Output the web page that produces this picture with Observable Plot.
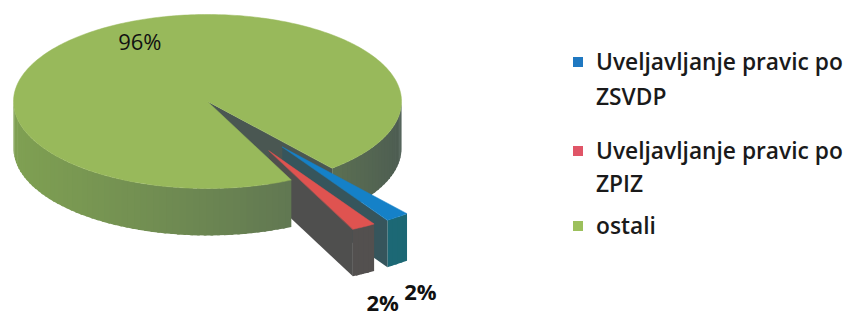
<!DOCTYPE html>
<html>
<head>
<meta charset="utf-8">
<script src="https://cdn.jsdelivr.net/npm/d3@7"></script>
<script src="https://cdn.jsdelivr.net/npm/@observablehq/plot@0.6"></script>
<style>
html, body { margin: 0; padding: 0; background: #fff; overflow: hidden; width: 843px; height: 316px; }
#wrap { position: relative; width: 843px; height: 316px; }
#chart { position: absolute; left: 0; top: 0; }
#legend { position: absolute; left: 0; top: 0; }
</style>
</head>
<body>
<div id="wrap"><div id="chart"></div><svg id="legend" width="843" height="316"></svg></div>
<script>
// ---- data ----
const categories = ["Uveljavljanje pravic po ZSVDP", "Uveljavljanje pravic po ZPIZ", "ostali"];
const legendLines = [["Uveljavljanje pravic po", "ZSVDP"], ["Uveljavljanje pravic po", "ZPIZ"], ["ostali"]];
const values = [2, 2, 96];
const pctLabels = ["2%", "2%", "96%"];
const topColors = ["#1581c8", "#df5350", "#98b95b"];
const legendColors = ["#1f78c1", "#e05567", "#9cc05c"];
const sideLight = ["#1f7a86", "#5a5553", "#7fa052"];
const sideDark = ["#1a5f6c", "#4f4d4c", "#4b5a52"];
const cutColors = ["#36555c", "#4f4f4e", "#4a5752"];

// ---- geometry (unit pie, computed from values) ----
const START = 50, DEPTH = 0.54, EXPLODE = 0.65;
const toR = Math.PI / 180;
const total = d3.sum(values);
let acc = 0;
const slices = values.map((v, i) => {
  const a0 = START + acc / total * 360; acc += v;
  const a1 = START + acc / total * 360;
  const m = (a0 + a1) / 2;
  const e = v / total < 0.1 ? EXPLODE : 0;
  return {i, v, a0, a1, m, e, ox: e * Math.cos(m * toR), oy: e * Math.sin(m * toR)};
});
const faces = [], tops = [];
let pid = 0;
function addPoly(arr, pts, fill, layer) {
  const id = pid++;
  pts.forEach((p, k) => arr.push({id, layer, fill, x: p[0], y: p[1], k}));
}
const rim = (s, a, z = 0) => [s.ox + Math.cos(a * toR), s.oy + Math.sin(a * toR) + z];
const ctr = (s, z = 0) => [s.ox, s.oy + z];

for (const s of slices) {
  // outer side, split in small shaded segments that overlap slightly
  for (const [lo0, hi0] of [[0, 180], [360, 540]]) {
    const lo = Math.max(lo0, s.a0), hi = Math.min(hi0, s.a1);
    if (hi <= lo) continue;
    const n = Math.max(1, Math.ceil((hi - lo) / 2));
    for (let j = 0; j < n; j++) {
      const t1 = lo + (hi - lo) * j / n;
      const t2 = Math.min(hi, lo + (hi - lo) * (j + 1) / n + 0.8);
      const tm = (t1 + t2) / 2;
      const sh = Math.pow((1 - Math.cos(tm * toR)) / 2, 0.7);
      const fill = d3.interpolateRgb(sideDark[s.i], sideLight[s.i])(sh);
      const layer = s.e > 0 ? 1 : ((tm % 360) < START ? 0 : 2);
      addPoly(faces, [rim(s, t1), rim(s, t2), rim(s, t2, DEPTH), rim(s, t1, DEPTH)], fill, layer);
    }
  }
  // radial cut faces that face the viewer
  const layerCut = s.e > 0 ? 1 : 0;
  if (Math.cos(s.a1 * toR) > 0) addPoly(faces, [ctr(s), rim(s, s.a1), rim(s, s.a1, DEPTH), ctr(s, DEPTH)], cutColors[s.i], layerCut);
  if (Math.cos(s.a0 * toR) < 0) addPoly(faces, [ctr(s), rim(s, s.a0), rim(s, s.a0, DEPTH), ctr(s, DEPTH)], cutColors[s.i], layerCut);
}
faces.sort((a, b) => a.layer - b.layer || a.id - b.id || a.k - b.k);
for (const s of slices) {
  const pts = [ctr(s)];
  const n = Math.max(2, Math.ceil(s.a1 - s.a0));
  for (let j = 0; j <= n; j++) pts.push(rim(s, s.a0 + (s.a1 - s.a0) * j / n));
  addPoly(tops, pts, topColors[s.i], 3);
}

const labelPts = slices.map(s => {
  if (s.e > 0) {
    const r = 1.2 + s.e;
    return {x: Math.cos(s.m * toR) * r, y: Math.sin(s.m * toR) * r + DEPTH + 0.17, t: pctLabels[s.i], small: true};
  }
  const r = 0.72;
  return {x: Math.cos(s.m * toR) * r, y: Math.sin(s.m * toR) * r, t: pctLabels[s.i], small: false};
});

const chart = Plot.plot({
  width: 560, height: 316,
  margin: 0,
  x: {domain: [-1, 1], range: [13, 401], axis: null},
  y: {domain: [-1, 1], range: [14, 188], axis: null},
  color: {type: "identity"},
  style: {fontFamily: "Open Sans", background: "transparent", overflow: "visible"},
  marks: [
    Plot.line(faces, {x: "x", y: "y", z: "id", fill: "fill", stroke: "none", curve: "linear-closed"}),
    Plot.line(tops, {x: "x", y: "y", z: "id", fill: "fill", stroke: "fill", strokeWidth: 0.5, curve: "linear-closed"}),
    Plot.text(labelPts.filter(d => !d.small), {x: "x", y: "y", text: "t", fontSize: 22, fill: "#111", dx: 8, dy: -6}),
    Plot.text(labelPts.filter(d => d.small), {x: "x", y: "y", text: "t", fontSize: 22, fontWeight: "bold", fill: "#111"})
  ]
});
document.getElementById("chart").appendChild(chart);

// ---- legend ----
const lg = d3.select("#legend");
const baselines = [[70, 105], [159, 192], [234]];
const tx = 596;
const probe = lg.append("text").attr("font-family", "Open Sans").attr("font-weight", 600).attr("font-size", 22).text(legendLines[0][0]);
const w = probe.node().getComputedTextLength();
probe.remove();
const fs = 22 * 247 / w;
legendLines.forEach((lines, i) => {
  lg.append("rect").attr("x", 573).attr("y", baselines[i][0] - 13).attr("width", 10).attr("height", 10).attr("fill", legendColors[i]);
  lines.forEach((ln, j) => {
    lg.append("text").attr("x", tx).attr("y", baselines[i][j]).attr("font-family", "Open Sans").attr("font-weight", 600)
      .attr("font-size", fs).attr("fill", "#1a1a1a").text(ln);
  });
});
</script>
</body>
</html>
